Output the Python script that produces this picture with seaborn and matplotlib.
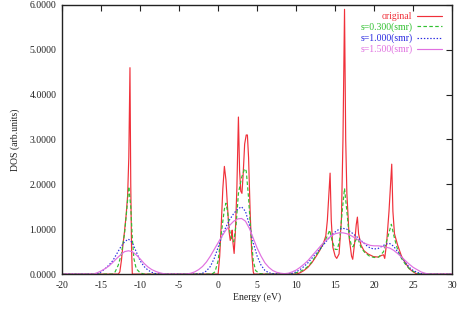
import numpy as np
import pandas as pd
import matplotlib
matplotlib.use("Agg")
import matplotlib.pyplot as plt
import seaborn as sns

# ---- data ----
orig_E = [-20, -12.8, -12.6, -12.4, -12.2, -12.0, -11.8, -11.6, -11.45, -11.3, -11.2, -11.1, -11.0,
          0.0, 0.2, 0.4, 0.6, 0.8, 1.0, 1.2, 1.4, 1.55, 1.7, 1.8, 1.9, 2.05, 2.2, 2.4, 2.6, 2.75, 2.9,
          3.05, 3.2, 3.4, 3.6, 3.75, 3.9, 4.1, 4.3, 4.5, 4.6,
          10.0, 10.5, 11, 11.5, 12, 12.5, 13, 13.5, 13.8, 14.0, 14.2, 14.35, 14.5, 14.7, 15.0, 15.2,
          15.5, 15.8, 16.0, 16.2, 16.35, 16.5, 16.8, 17.1, 17.25, 17.5, 17.7, 17.85, 18.0, 18.3,
          18.7, 19.2, 19.9, 20.5, 21.0, 21.2, 21.35, 21.6, 21.9, 22.1, 22.25, 22.4, 22.6, 23.0,
          23.5, 24.0, 24.5, 25.0, 25.5, 30]
orig_D = [0, 0, 0.05, 0.3, 0.65, 0.95, 1.3, 1.75, 2.6, 4.6, 2.0, 0.6, 0,
          0, 0.4, 1.1, 1.9, 2.4, 2.1, 1.5, 0.95, 0.75, 0.85, 0.98, 0.7, 0.46, 0.9, 1.9, 3.5, 2.3, 1.85,
          1.8, 2.2, 2.9, 3.1, 3.1, 2.6, 1.4, 0.5, 0.05, 0,
          0, 0.03, 0.08, 0.15, 0.25, 0.38, 0.52, 0.69, 0.85, 1.2, 1.8, 2.25, 1.2, 0.6, 0.4, 0.35,
          0.45, 1.2, 3.0, 5.9, 3.0, 1.8, 0.8, 0.4, 0.33, 0.7, 1.1, 1.27, 0.9, 0.65,
          0.52, 0.45, 0.39, 0.38, 0.42, 0.43, 0.35, 0.7, 1.4, 2.0, 2.45, 1.4, 0.9, 0.65,
          0.4, 0.25, 0.12, 0.05, 0, 0]

s03_E = [-20, -13.6, -13.2, -12.8, -12.4, -12.0, -11.7, -11.45, -11.2, -11.0, -10.8, -10.5, -10.0, -9.5,
         -0.8, -0.4, 0, 0.4, 0.8, 1.0, 1.2, 1.5, 1.8, 2.0, 2.3, 2.6, 3.0, 3.4, 3.6, 3.9, 4.2, 4.5, 4.8,
         5.3, 6, 9.5, 10.0, 10.5, 11, 11.5, 12, 12.5, 13, 13.5, 14.0, 14.3, 14.6, 15.0, 15.3, 15.6,
         15.9, 16.2, 16.5, 16.8, 17.1, 17.3, 17.6, 17.9, 18.3, 18.8, 19.4, 20.0, 20.6, 21.2, 21.7,
         22.2, 22.6, 23.0, 23.5, 24.0, 24.5, 25.0, 25.5, 26, 30]
s03_D = [0, 0, 0.05, 0.2, 0.45, 0.9, 1.45, 1.95, 1.5, 0.8, 0.35, 0.12, 0.03, 0,
         0, 0.05, 0.3, 0.9, 1.45, 1.58, 1.4, 0.95, 0.75, 0.72, 1.1, 1.8, 2.15, 2.35, 2.3, 1.7, 0.9, 0.3, 0.08,
         0.01, 0, 0, 0.03, 0.06, 0.1, 0.17, 0.27, 0.4, 0.53, 0.68, 0.85, 0.98, 0.75, 0.55, 0.55, 0.8,
         1.4, 1.91, 1.4, 0.85, 0.62, 0.61, 0.75, 0.8, 0.6, 0.48, 0.4, 0.37, 0.38, 0.5, 0.8,
         1.11, 0.8, 0.55, 0.35, 0.22, 0.12, 0.06, 0.02, 0, 0]

s10_E = [-20, -15.5, -15, -14.5, -14, -13.5, -13, -12.5, -12, -11.5, -11, -10.5, -10, -9.5, -9, -8.5,
         -8, -7.5, -2.5, -2, -1.5, -1, -0.5, 0, 0.5, 1.0, 1.5, 2.0, 2.5, 3.0, 3.5, 4.0, 4.5, 5.0, 5.5,
         6.0, 6.5, 7, 8, 9, 9.5, 10, 10.5, 11, 11.5, 12, 12.5, 13, 13.5, 14, 14.5, 15, 15.5, 16, 16.5,
         17, 17.5, 18, 18.5, 19, 19.5, 20, 20.5, 21, 21.5, 22, 22.5, 23, 23.5, 24, 24.5, 25, 25.5, 26,
         26.5, 30]
s10_D = [0, 0, 0.05, 0.12, 0.2, 0.3, 0.45, 0.6, 0.72, 0.78, 0.7, 0.5, 0.3, 0.17, 0.09, 0.04,
         0.01, 0, 0, 0.02, 0.07, 0.17, 0.35, 0.6, 0.85, 1.05, 1.22, 1.35, 1.45, 1.5, 1.4, 1.1, 0.7, 0.4, 0.2,
         0.08, 0.03, 0.01, 0, 0, 0.02, 0.05, 0.1, 0.17, 0.25, 0.35, 0.45, 0.55, 0.65, 0.76, 0.86, 0.94, 1.0, 1.02, 1.0,
         0.94, 0.87, 0.8, 0.72, 0.64, 0.58, 0.56, 0.57, 0.62, 0.67, 0.68, 0.62, 0.5, 0.38, 0.26, 0.15, 0.08, 0.04, 0.01,
         0, 0]

s15_E = [-20, -16, -15.5, -15, -14.5, -14, -13.5, -13, -12.5, -12, -11.5, -11, -10.5, -10, -9.5, -9,
         -8.5, -8, -7.5, -7, -6.5, -4, -3.5, -3, -2.5, -2, -1.5, -1, -0.5, 0, 0.5, 1, 1.5, 2, 2.5, 3,
         3.5, 4, 4.5, 5, 5.5, 6, 6.5, 7, 7.5, 8, 8.5, 9, 9.5, 10, 10.5, 11, 11.5, 12, 12.5, 13, 13.5,
         14, 14.5, 15, 15.5, 16, 16.5, 17, 17.5, 18, 18.5, 19, 19.5, 20, 20.5, 21, 21.5, 22, 22.5, 23,
         23.5, 24, 24.5, 25, 25.5, 26, 26.5, 27, 30]
s15_D = [0, 0, 0.03, 0.07, 0.12, 0.18, 0.26, 0.35, 0.43, 0.5, 0.52, 0.5, 0.43, 0.34, 0.24, 0.16,
         0.1, 0.06, 0.03, 0.01, 0, 0, 0.02, 0.05, 0.1, 0.17, 0.27, 0.4, 0.55, 0.7, 0.85, 0.98, 1.09, 1.18, 1.23, 1.24,
         1.18, 1.02, 0.8, 0.58, 0.4, 0.25, 0.15, 0.08, 0.04, 0.02, 0.01, 0.02, 0.05, 0.09, 0.15, 0.22, 0.3, 0.4, 0.5, 0.6, 0.7,
         0.78, 0.85, 0.9, 0.92, 0.92, 0.9, 0.86, 0.81, 0.76, 0.71, 0.67, 0.64, 0.63, 0.63, 0.62, 0.6, 0.58, 0.53, 0.46,
         0.38, 0.3, 0.22, 0.15, 0.1, 0.05, 0.02, 0, 0]

labels = ["original", "s=0.300(smr)", "s=1.000(smr)", "s=1.500(smr)"]
x_ticks = [-20, -15, -10, -5, 0, 5, 10, 15, 20, 25, 30]
y_ticks = [0, 1, 2, 3, 4, 5, 6]

# ---- styling ----
sns.set_theme(style="white")
plt.rcParams["font.family"] = ["Liberation Serif", "DejaVu Serif"]

colors = ["#f0303a", "#30c030", "#2828e0", "#e070e0"]
dashes = ["-", (0, (3, 2)), (0, (1.2, 1.5)), "-"]

fig = plt.figure(figsize=(4.74, 3.24), dpi=100)
ax = fig.add_axes([0.131, 0.154, 0.823, 0.831])

series = [(orig_E, orig_D), (s03_E, s03_D), (s10_E, s10_D), (s15_E, s15_D)]
for (E, D), lab, c, ls in zip(series, labels, colors, dashes):
    df = pd.DataFrame({"Energy": E, "DOS": D})
    sns.lineplot(data=df, x="Energy", y="DOS", ax=ax, color=c, linewidth=0.85,
                 label=lab, estimator=None, sort=False)
    ax.lines[-1].set_linestyle(ls)

ax.set_xlim(-20, 30)
ax.set_ylim(0, 6)
ax.set_xticks(x_ticks)
ax.set_xticklabels([str(t) for t in x_ticks])
ax.set_yticks(y_ticks)
ax.set_yticklabels([f"{t:.4f}" for t in y_ticks])
ax.tick_params(direction="in", length=4, width=0.8, top=True, right=True,
               labelsize=7, colors="#222222", pad=4)
ax.tick_params(axis="x", pad=5)
for s in ax.spines.values():
    s.set_color("#222222")
    s.set_linewidth(1.0)
    s.set_visible(True)

ax.set_xlabel("Energy (eV)", fontsize=7, labelpad=2, color="#222222")
ax.set_ylabel("DOS (arb.units)", fontsize=7, labelpad=7, color="#222222")

leg = ax.legend(loc="upper right", bbox_to_anchor=(0.99, 0.995), frameon=False,
                markerfirst=False, fontsize=7, handlelength=2.6, handletextpad=0.5,
                labelspacing=0.15, borderaxespad=0.2, labelcolor="linecolor")
for t in leg.get_texts():
    t.set_ha("right")
leg._legend_box.align = "right"

fig.savefig("out.png", dpi=100)
